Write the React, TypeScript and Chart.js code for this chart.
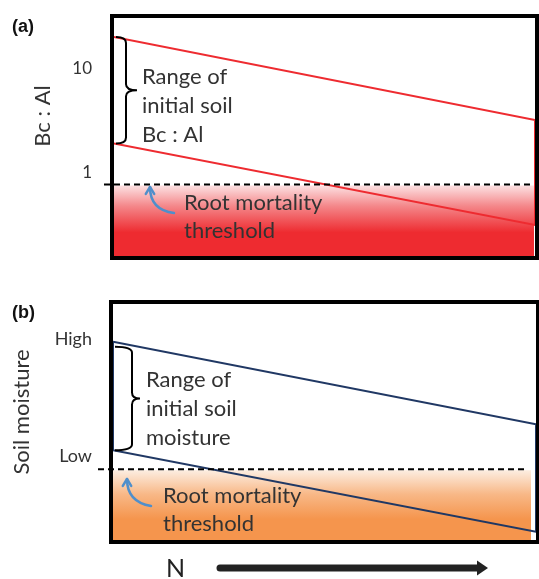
import React, { useEffect, useRef } from 'react';
import { Chart, registerables } from 'chart.js';
Chart.register(...registerables);

// ---- data ----
const nRange = [0, 1]; // relative N deposition (left -> right)

const bcAlUpper = [26.2, 4.17];
const bcAlLower = [2.48, 0.408];
const bcAlThreshold = 1;
const bcAlTicks = [1, 10];
const bcAlRange = [0.205, 40];

const moistureUpper = [8.4, 4.9];
const moistureLower = [3.8, 0.35];
const moistureThreshold = 3.0;
const moistureTickValues = [8.5, 3.55];
const moistureTickLabels = ['High', 'Low'];
const moistureRange = [0, 10];

const FONT = 'Lato, "Open Sans", sans-serif';
const TEXT = '#333333';
const W = 539;

function drawBrace(ctx: CanvasRenderingContext2D, xl: number, xm: number, xt: number, yt: number, yb: number) {
  const ym = (yt + yb) / 2;
  const r = 6;
  ctx.save();
  ctx.strokeStyle = '#000';
  ctx.lineWidth = 2;
  ctx.beginPath();
  ctx.moveTo(xl, yt);
  ctx.quadraticCurveTo(xm, yt, xm, yt + r);
  ctx.lineTo(xm, ym - r);
  ctx.quadraticCurveTo(xm, ym, xt, ym);
  ctx.quadraticCurveTo(xm, ym, xm, ym + r);
  ctx.lineTo(xm, yb - r);
  ctx.quadraticCurveTo(xm, yb, xl, yb);
  ctx.stroke();
  ctx.restore();
}

function drawCurvedArrow(ctx: CanvasRenderingContext2D, x0: number, y0: number, cx: number, cy: number, x1: number, y1: number) {
  ctx.save();
  ctx.strokeStyle = '#4f8fcb';
  ctx.lineWidth = 2.5;
  ctx.lineCap = 'round';
  ctx.lineJoin = 'round';
  ctx.beginPath();
  ctx.moveTo(x0, y0);
  ctx.quadraticCurveTo(cx, cy, x1, y1);
  ctx.stroke();
  const ang = Math.atan2(y1 - cy, x1 - cx);
  const L = 8;
  ctx.beginPath();
  ctx.moveTo(x1 - L * Math.cos(ang - 0.55), y1 - L * Math.sin(ang - 0.55));
  ctx.lineTo(x1, y1);
  ctx.lineTo(x1 - L * Math.cos(ang + 0.55), y1 - L * Math.sin(ang + 0.55));
  ctx.stroke();
  ctx.restore();
}

function drawLines(ctx: CanvasRenderingContext2D, lines: string[], x: number, y0: number, step: number, size: number) {
  ctx.save();
  ctx.fillStyle = TEXT;
  ctx.font = `${size}px ${FONT}`;
  ctx.textAlign = 'left';
  ctx.textBaseline = 'middle';
  lines.forEach((s, i) => ctx.fillText(s, x, y0 + i * step));
  ctx.restore();
}

function drawVerticalTitle(ctx: CanvasRenderingContext2D, text: string, x: number, y: number) {
  ctx.save();
  ctx.translate(x, y);
  ctx.rotate(-Math.PI / 2);
  ctx.fillStyle = TEXT;
  ctx.font = `22px ${FONT}`;
  ctx.textAlign = 'center';
  ctx.textBaseline = 'middle';
  ctx.fillText(text, 0, 0);
  ctx.restore();
}

function drawPanelLabel(ctx: CanvasRenderingContext2D, text: string, x: number, y: number) {
  ctx.save();
  ctx.fillStyle = '#111';
  ctx.font = 'bold 18px "Liberation Sans", Arial, sans-serif';
  ctx.textAlign = 'left';
  ctx.textBaseline = 'middle';
  ctx.fillText(text, x, y);
  ctx.restore();
}

type PanelCfg = {
  upper: number[];
  lower: number[];
  threshold: number;
  closeLeft: boolean;
  color: string;
  yScale: any;
  axisWidth: number;
  padding: { top: number; bottom: number; right: number };
  gradStops: [number, string][];
  gradDepth: number;
  fillRightInset: number;
  dashLeft: number;
  dashRightInset: number;
  brace: { xl: number; xm: number; xt: number; topOff: number; botOff: number };
  rangeText: string[];
  rangeTextPos: [number, number, number];
  rootTextPos: [number, number, number];
  arrow: [number, number, number, number, number, number];
  title: string;
  titlePos: [number, number];
  label: string;
  labelPos: [number, number];
  extra?: (ctx: CanvasRenderingContext2D) => void;
};

function makeChart(canvas: HTMLCanvasElement, p: PanelCfg) {
  const pts = [
    { x: nRange[0], y: p.upper[0] },
    { x: nRange[1], y: p.upper[1] },
    { x: nRange[1], y: p.lower[1] },
    { x: nRange[0], y: p.lower[0] },
  ];
  if (p.closeLeft) pts.push({ x: nRange[0], y: p.upper[0] });

  const plugin = {
    id: 'decor',
    beforeDatasetsDraw(chart: any) {
      const { ctx, chartArea } = chart;
      const ys = chart.scales.y;
      const yT = ys.getPixelForValue(p.threshold);
      const g = ctx.createLinearGradient(0, yT, 0, yT + p.gradDepth);
      p.gradStops.forEach(([o, c]) => g.addColorStop(o, c));
      ctx.save();
      ctx.fillStyle = g;
      ctx.fillRect(chartArea.left, yT + 1, chartArea.right - p.fillRightInset - chartArea.left, chartArea.bottom - yT - 1);
      ctx.restore();
    },
    afterDraw(chart: any) {
      const { ctx, chartArea } = chart;
      const ys = chart.scales.y;
      const xs = chart.scales.x;
      const yT = ys.getPixelForValue(p.threshold);
      // dashed threshold
      ctx.save();
      ctx.strokeStyle = '#000';
      ctx.lineWidth = 2;
      ctx.setLineDash([6, 4]);
      ctx.beginPath();
      ctx.moveTo(p.dashLeft, yT);
      ctx.lineTo(chartArea.right - p.dashRightInset, yT);
      ctx.stroke();
      ctx.restore();
      // frame
      ctx.save();
      ctx.strokeStyle = '#000';
      ctx.lineWidth = 4;
      ctx.strokeRect(chartArea.left - 2, chartArea.top - 2, chartArea.right - chartArea.left + 4, chartArea.bottom - chartArea.top + 4);
      ctx.restore();
      // brace
      const yUp = ys.getPixelForValue(p.upper[0]);
      const yLo = ys.getPixelForValue(p.lower[0]);
      const x0 = xs.getPixelForValue(nRange[0]);
      drawBrace(ctx, x0 + p.brace.xl, x0 + p.brace.xm, x0 + p.brace.xt, yUp + p.brace.topOff, yLo + p.brace.botOff);
      // texts
      drawLines(ctx, p.rangeText, p.rangeTextPos[0], p.rangeTextPos[1], p.rangeTextPos[2], 22);
      drawLines(ctx, ['Root mortality', 'threshold'], p.rootTextPos[0], p.rootTextPos[1], p.rootTextPos[2], 22);
      const a = p.arrow;
      drawCurvedArrow(ctx, a[0], a[1], a[2], a[3], a[4], a[5]);
      drawVerticalTitle(ctx, p.title, p.titlePos[0], p.titlePos[1]);
      drawPanelLabel(ctx, p.label, p.labelPos[0], p.labelPos[1]);
      if (p.extra) p.extra(ctx);
    },
  };

  return new Chart(canvas, {
    type: 'scatter',
    data: {
      datasets: [
        {
          data: pts,
          showLine: true,
          borderColor: p.color,
          borderWidth: 2,
          pointRadius: 0,
          fill: false,
          tension: 0,
        },
      ],
    },
    options: {
      responsive: false,
      animation: false,
      events: [],
      layout: { padding: { left: 0, top: p.padding.top, bottom: p.padding.bottom, right: p.padding.right } },
      plugins: { legend: { display: false }, tooltip: { enabled: false }, title: { display: false } },
      scales: {
        x: { type: 'linear', min: nRange[0], max: nRange[1], display: false },
        y: {
          ...p.yScale,
          position: 'left',
          grid: { display: false, drawTicks: false },
          border: { display: false },
          afterFit: (s: any) => {
            s.width = p.axisWidth;
            s.paddingTop = 0;
            s.paddingBottom = 0;
          },
        },
      },
    },
    plugins: [plugin],
  } as any);
}

export default function App() {
  const refA = useRef<HTMLCanvasElement>(null);
  const refB = useRef<HTMLCanvasElement>(null);

  useEffect(() => {
    const hA = 280;
    const chartA = makeChart(refA.current!, {
      upper: bcAlUpper,
      lower: bcAlLower,
      threshold: bcAlThreshold,
      closeLeft: false,
      color: '#ee2b30',
      yScale: {
        type: 'logarithmic',
        min: bcAlRange[0],
        max: bcAlRange[1],
        afterBuildTicks: (s: any) => {
          s.ticks = bcAlTicks.map((v) => ({ value: v }));
        },
        ticks: {
          callback: (v: any) => String(v),
          color: TEXT,
          font: { family: FONT, size: 17 },
          padding: 22,
          labelOffset: -12,
        },
      },
      axisWidth: 114,
      padding: { top: 18, bottom: hA - 256, right: W - 535 },
      gradStops: [
        [0, '#fde6e7'],
        [0.45, '#f4878a'],
        [1, '#ee2b30'],
      ],
      gradDepth: 48,
      fillRightInset: 1,
      dashLeft: 104,
      dashRightInset: 1,
      brace: { xl: 2, xm: 12, xt: 23, topOff: 0, botOff: 0 },
      rangeText: ['Range of', 'initial soil', 'Bc : Al'],
      rangeTextPos: [142, 77, 29],
      rootTextPos: [184, 203, 28],
      arrow: [174, 213, 150, 210, 150, 187],
      title: 'Bc : Al',
      titlePos: [43, 116],
      label: '(a)',
      labelPos: [12, 27],
    });

    const hB = 299;
    const off = 280;
    const chartB = makeChart(refB.current!, {
      upper: moistureUpper,
      lower: moistureLower,
      threshold: moistureThreshold,
      closeLeft: true,
      color: '#203864',
      yScale: {
        type: 'linear',
        min: moistureRange[0],
        max: moistureRange[1],
        afterBuildTicks: (s: any) => {
          s.ticks = moistureTickValues.map((v) => ({ value: v }));
        },
        ticks: {
          callback: (v: any) => {
            const i = moistureTickValues.indexOf(Number(v));
            return i >= 0 ? moistureTickLabels[i] : '';
          },
          color: TEXT,
          font: { family: FONT, size: 18 },
          padding: 21,
        },
      },
      axisWidth: 113,
      padding: { top: 304 - off, bottom: hB - (540 - off), right: W - 536 },
      gradStops: [
        [0, '#fdf0e5'],
        [0.5, '#f8b887'],
        [1, '#f5954d'],
      ],
      gradDepth: 50,
      fillRightInset: 5,
      dashLeft: 98,
      dashRightInset: 9,
      brace: { xl: 2, xm: 19, xt: 27, topOff: 5, botOff: 0 },
      rangeText: ['Range of', 'initial soil', 'moisture'],
      rangeTextPos: [146, 380 - off, 29],
      rootTextPos: [163, 496 - off, 28],
      arrow: [151, 506 - off, 127, 502 - off, 127, 479 - off],
      title: 'Soil moisture',
      titlePos: [22, 412 - off],
      label: '(b)',
      labelPos: [12, 313 - off],
      extra: (ctx) => {
        // N axis label with arrow
        const y = 568 - off;
        ctx.save();
        ctx.fillStyle = '#222';
        ctx.font = `25px ${FONT}`;
        ctx.textAlign = 'left';
        ctx.textBaseline = 'middle';
        ctx.fillText('N', 166, y + 1);
        ctx.strokeStyle = '#222';
        ctx.lineWidth = 7;
        ctx.lineCap = 'round';
        ctx.beginPath();
        ctx.moveTo(220, y);
        ctx.lineTo(479, y);
        ctx.stroke();
        ctx.beginPath();
        ctx.moveTo(477, y - 7.5);
        ctx.lineTo(488, y);
        ctx.lineTo(477, y + 7.5);
        ctx.closePath();
        ctx.fill();
        ctx.restore();
      },
    });

    return () => {
      chartA.destroy();
      chartB.destroy();
    };
  }, []);

  return (
    <div style={{ position: 'absolute', left: 0, top: 0, width: W, height: 579, background: '#fff' }}>
      <canvas ref={refA} width={W} height={280} style={{ position: 'absolute', left: 0, top: 0 }} />
      <canvas ref={refB} width={W} height={299} style={{ position: 'absolute', left: 0, top: 280 }} />
    </div>
  );
}
